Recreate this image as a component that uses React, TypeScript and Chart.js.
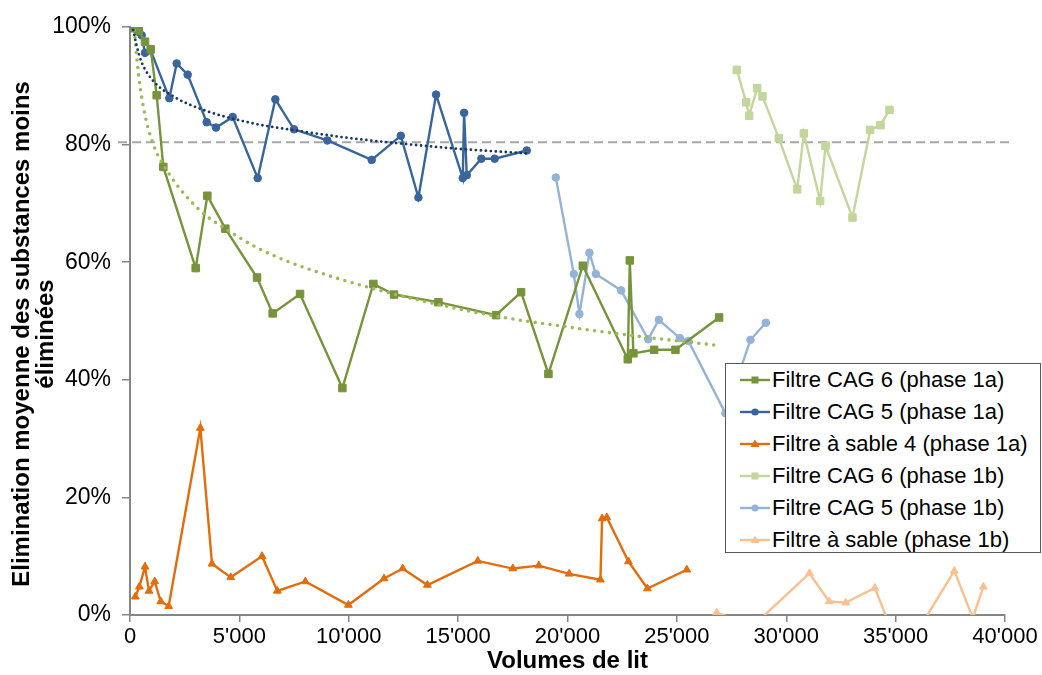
import React, { useEffect, useRef } from 'react';
import { Chart, registerables } from 'chart.js';

Chart.register(...registerables);

const FONT = '"Liberation Sans", Arial, Helvetica, sans-serif';

// ---- Data (x = bed volumes, y = % eliminated) ----
const cag6_1a_x = [80, 400, 686, 946, 1220, 1524, 3003, 3535, 4359, 5807, 6523, 7773, 9709, 11125, 12071, 14098, 16735, 17878, 19127, 20700, 22756, 22848, 23013, 23960, 24935, 26931];
const cag6_1a_y = [99.8, 99.4, 97.5, 96.2, 88.4, 76.2, 59.0, 71.3, 65.7, 57.4, 51.3, 54.6, 38.6, 56.3, 54.5, 53.2, 51.0, 54.9, 41.0, 59.4, 43.5, 60.3, 44.5, 45.1, 45.1, 50.6];

const cag5_1a_x = [78, 250, 381, 533, 686, 946, 1798, 2134, 2636, 3506, 3932, 4695, 5838, 6644, 7499, 9022, 11049, 12378, 13184, 13992, 15212, 15273, 15395, 16062, 16672, 18139];
const cag5_1a_y = [99.9, 99.7, 99.2, 98.6, 95.6, 96.0, 87.9, 93.8, 91.9, 83.8, 82.9, 84.7, 74.3, 87.7, 82.6, 80.7, 77.4, 81.5, 71.0, 88.5, 74.3, 85.4, 74.8, 77.6, 77.6, 79.0];

const sable4_1a_x = [244, 427, 686, 869, 1128, 1405, 1768, 3216, 3749, 4604, 6036, 6736, 8017, 9983, 11612, 12466, 13596, 15900, 17500, 18688, 20073, 21504, 21582, 21797, 22785, 23653, 25454];
const sable4_1a_y = [3.1, 4.8, 8.2, 4.1, 5.7, 2.3, 1.5, 31.8, 8.7, 6.4, 10.0, 4.1, 5.7, 1.7, 6.2, 7.9, 5.1, 9.2, 7.9, 8.4, 7.0, 6.0, 16.4, 16.6, 9.1, 4.5, 7.7];

const cag6_1b_x = [27740, 28166, 28303, 28669, 28912, 29661, 30498, 30805, 31550, 31794, 33028, 33837, 34307, 34719];
const cag6_1b_y = [92.7, 87.2, 84.9, 89.6, 88.2, 81.1, 72.4, 81.9, 70.4, 79.8, 67.6, 82.5, 83.3, 85.9];

const cag5_1b_x = [19465, 20288, 20544, 21002, 21294, 22451, 23685, 24174, 25134, 25528, 27221, 28364, 29066];
const cag5_1b_y = [74.4, 58.0, 51.2, 61.6, 58.0, 55.2, 46.9, 50.2, 47.1, 46.6, 34.3, 46.8, 49.7];

const sable_1b_x = [26823, 28500, 31061, 31961, 32723, 34047, 35300, 37684, 38527, 39010];
const sable_1b_y = [0.4, -1.8, 7.1, 2.3, 2.1, 4.6, -7, 7.5, -0.5, 4.8];

// Trend lines
const trend6_x = [200, 305, 457, 686, 1067, 1829, 3201, 4359, 5640, 7163, 9449, 11125, 13260, 16766, 19966, 23013, 26750];
const trend6_y = [99.5, 95.0, 90.0, 85.0, 80.0, 74.8, 68.8, 65.7, 62.8, 60.2, 57.3, 55.5, 53.5, 50.8, 49.0, 47.5, 45.9];

const trend5_x = [150, 305, 533, 1067, 1981, 3353, 5640, 7773, 10060, 12346, 14632, 18139];
const trend5_y = [99.5, 96.8, 94.0, 90.8, 88.2, 85.9, 83.6, 82.3, 81.1, 80.2, 79.4, 78.5];

const THRESHOLD = 80.4;

const yTicks = [0, 20, 40, 60, 80, 100];
const xTicks = [0, 5000, 10000, 15000, 20000, 25000, 30000, 35000, 40000];

const yTitleLines = ['Elimination moyenne des substances moins', 'éliminées'];
const xTitle = 'Volumes de lit';

const legendItems = [
  { label: 'Filtre CAG 6 (phase 1a)', color: '#77933C', marker: 'rect' },
  { label: 'Filtre CAG 5 (phase 1a)', color: '#38659B', marker: 'circle' },
  { label: 'Filtre à sable 4 (phase 1a)', color: '#E46C0A', marker: 'triangle' },
  { label: 'Filtre CAG 6 (phase 1b)', color: '#C3D69B', marker: 'rect' },
  { label: 'Filtre CAG 5 (phase 1b)', color: '#95B3D7', marker: 'circle' },
  { label: 'Filtre à sable (phase 1b)', color: '#FAC090', marker: 'triangle' },
];

function pts(xs: number[], ys: number[]) {
  return xs.map((x, i) => ({ x, y: ys[i] }));
}

function fmtX(v: number) {
  if (v === 0) return '0';
  const th = Math.floor(v / 1000);
  const rest = String(v % 1000).padStart(3, '0');
  return `${th}'${rest}`;
}

const thresholdPlugin = {
  id: 'thresholdLine',
  beforeDatasetsDraw(chart: any) {
    const { ctx, chartArea, scales } = chart;
    const y = scales.y.getPixelForValue(THRESHOLD);
    ctx.save();
    ctx.strokeStyle = '#A6A6A6';
    ctx.lineWidth = 2.2;
    ctx.setLineDash([9, 5]);
    ctx.beginPath();
    ctx.moveTo(chartArea.left - 12, y);
    ctx.lineTo(chartArea.right + 5, y);
    ctx.stroke();
    ctx.restore();
  },
};

const yTitlePlugin = {
  id: 'yTitle',
  afterDraw(chart: any) {
    const { ctx } = chart;
    ctx.save();
    ctx.fillStyle = '#000';
    ctx.font = `bold 24px ${FONT}`;
    ctx.textAlign = 'center';
    ctx.textBaseline = 'middle';
    yTitleLines.forEach((line, i) => {
      ctx.save();
      ctx.translate(22 + i * 24, 334);
      ctx.rotate(-Math.PI / 2);
      ctx.fillText(line, 0, 0);
      ctx.restore();
    });
    ctx.restore();
  },
};

function series(label: string, xs: number[], ys: number[], color: string, style: string, radius: number) {
  return {
    label,
    data: pts(xs, ys),
    borderColor: color,
    backgroundColor: color,
    borderWidth: 2.4,
    pointStyle: style,
    pointRadius: radius,
    pointBorderWidth: 1,
    pointBackgroundColor: color,
    pointBorderColor: color,
    tension: 0,
    fill: false,
  };
}

function trend(label: string, xs: number[], ys: number[], color: string, width: number, gap: number) {
  return {
    label,
    data: pts(xs, ys),
    borderColor: color,
    borderWidth: width,
    borderDash: [0, gap],
    borderCapStyle: 'round',
    pointRadius: 0,
    cubicInterpolationMode: 'monotone',
    fill: false,
  };
}

function LegendMarker({ color, marker }: { color: string; marker: string }) {
  return (
    <svg width={30} height={14} style={{ display: 'block' }}>
      <line x1={0} y1={7} x2={30} y2={7} stroke={color} strokeWidth={2.4} />
      {marker === 'rect' && <rect x={11.5} y={3.5} width={7} height={7} fill={color} />}
      {marker === 'circle' && <circle cx={15} cy={7} r={3.6} fill={color} />}
      {marker === 'triangle' && <polygon points="15,2.5 19.5,10 10.5,10" fill={color} />}
    </svg>
  );
}

export default function App() {
  const ref = useRef<HTMLCanvasElement | null>(null);

  useEffect(() => {
    document.body.style.margin = '0';
    const canvas = ref.current;
    if (!canvas) return;
    const chart = new Chart(canvas, {
      type: 'line',
      data: {
        datasets: [
          trend('Tendance CAG 5', trend5_x, trend5_y, '#17375E', 2.8, 5),
          trend('Tendance CAG 6', trend6_x, trend6_y, '#9BBB59', 3.6, 7.5),
          series('Filtre CAG 6 (phase 1a)', cag6_1a_x, cag6_1a_y, '#77933C', 'rect', 5.3),
          series('Filtre CAG 5 (phase 1a)', cag5_1a_x, cag5_1a_y, '#38659B', 'circle', 3.8),
          series('Filtre à sable 4 (phase 1a)', sable4_1a_x, sable4_1a_y, '#E46C0A', 'triangle', 4.5),
          series('Filtre CAG 6 (phase 1b)', cag6_1b_x, cag6_1b_y, '#C3D69B', 'rect', 5.3),
          series('Filtre CAG 5 (phase 1b)', cag5_1b_x, cag5_1b_y, '#95B3D7', 'circle', 3.8),
          series('Filtre à sable (phase 1b)', sable_1b_x, sable_1b_y, '#FAC090', 'triangle', 4.5),
        ] as any,
      },
      options: {
        animation: false,
        responsive: false,
        maintainAspectRatio: false,
        layout: { padding: { top: 27, right: 37, left: 0, bottom: 0 } },
        plugins: {
          legend: { display: false },
          tooltip: { enabled: false },
        },
        scales: {
          x: {
            type: 'linear',
            min: 0,
            max: 40000,
            afterBuildTicks: (scale: any) => {
              scale.ticks = xTicks.map((v) => ({ value: v }));
            },
            afterFit: (scale: any) => {
              scale.height = 60;
            },
            grid: { drawOnChartArea: false, drawTicks: true, tickLength: 7, color: '#868686', lineWidth: 1.5 },
            border: { display: true, color: '#868686', width: 2 },
            ticks: {
              color: '#000',
              padding: 2,
              maxRotation: 0,
              autoSkip: false,
              font: { family: FONT, size: 22 },
              callback: (v: any) => fmtX(Number(v)),
            },
            title: {
              display: true,
              text: xTitle,
              color: '#000',
              padding: { top: 0, bottom: 0 },
              font: { family: FONT, size: 24, weight: 'bold', lineHeight: 1.1 },
            },
          },
          y: {
            type: 'linear',
            min: 0,
            max: 100,
            afterBuildTicks: (scale: any) => {
              scale.ticks = yTicks.map((v) => ({ value: v }));
            },
            afterFit: (scale: any) => {
              scale.width = 130;
            },
            grid: { drawOnChartArea: false, drawTicks: true, tickLength: 8, color: '#868686', lineWidth: 1.5 },
            border: { display: true, color: '#868686', width: 2 },
            ticks: {
              color: '#000',
              padding: 11,
              font: { family: FONT, size: 23 },
              callback: (v: any) => `${v}%`,
            },
          },
        },
      } as any,
      plugins: [thresholdPlugin, yTitlePlugin],
    });
    return () => chart.destroy();
  }, []);

  return (
    <div style={{ position: 'relative', width: 1042, height: 675, background: '#fff' }}>
      <canvas ref={ref} width={1042} height={675} style={{ display: 'block' }} />
      <div
        style={{
          position: 'absolute',
          left: 725,
          top: 363,
          width: 316,
          height: 190,
          border: '1.5px solid #595959',
          background: '#fff',
          boxSizing: 'border-box',
          paddingTop: 0,
        }}
      >
        {legendItems.map((it) => (
          <div
            key={it.label}
            style={{
              display: 'flex',
              alignItems: 'center',
              height: 32,
              paddingLeft: 14,
              fontFamily: FONT,
              fontSize: 22,
              color: '#000',
              whiteSpace: 'nowrap',
            }}
          >
            <LegendMarker color={it.color} marker={it.marker} />
            <span style={{ marginLeft: 2 }}>{it.label}</span>
          </div>
        ))}
      </div>
    </div>
  );
}
